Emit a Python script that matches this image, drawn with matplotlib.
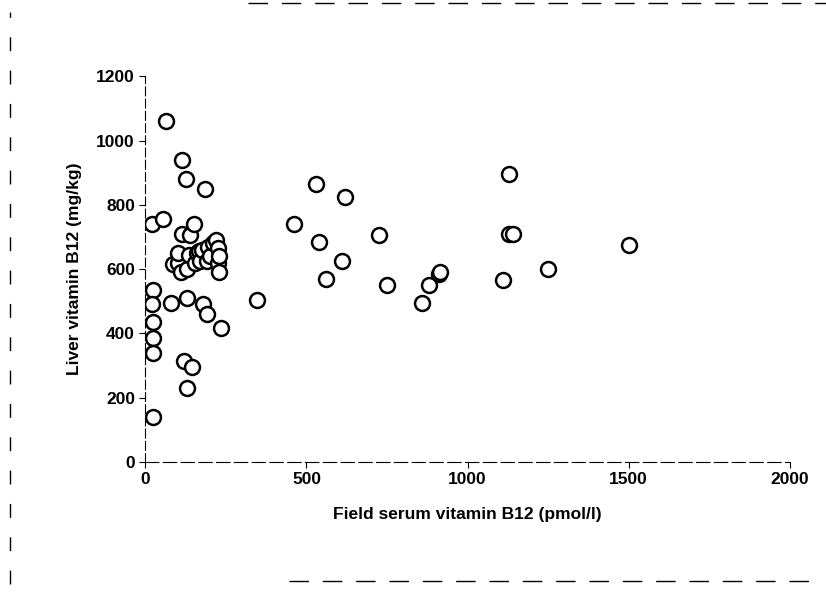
import numpy as np
import matplotlib.pyplot as plt

serum = [20, 25, 20, 25, 25, 25, 25,
         55, 65, 80, 85, 100, 100, 110, 115, 115, 120, 125, 130, 130, 130, 135, 140, 145,
         150, 155, 160, 165, 170, 175, 180, 185, 190, 190, 195, 200, 210, 220, 225, 225,
         230, 235, 230,
         345, 460, 530, 540, 560, 610, 620, 725, 750, 860, 880, 910, 915, 1110, 1130,
         1130, 1140, 1250, 1500]
liver = [740, 535, 490, 435, 385, 340, 140,
         755, 1060, 495, 615, 620, 650, 590, 710, 940, 315, 880, 230, 510, 600, 645, 705, 295,
         740, 620, 650, 655, 625, 660, 490, 850, 460, 625, 670, 640, 680, 690, 620, 665,
         590, 415, 640,
         505, 740, 865, 685, 570, 625, 825, 705, 550, 495, 550, 585, 590, 565, 895,
         710, 710, 600, 675]

plt.rcParams['font.family'] = ['Liberation Sans', 'DejaVu Sans']
fig = plt.figure(figsize=(8.26, 6.02), dpi=100)
ax = fig.add_axes([0.176, 0.233, 0.78, 0.64])
ax.scatter(serum, liver, s=115, facecolors='white', edgecolors='black', linewidths=1.8, zorder=3)
ax.set_xlim(0, 2000)
ax.set_ylim(0, 1200)
ax.set_xticks([0, 500, 1000, 1500, 2000])
ax.set_yticks(np.arange(0, 1201, 200))
for s in ['top', 'right']:
    ax.spines[s].set_visible(False)
ax.spines['left'].set_linestyle((0, (8, 3)))
ax.spines['bottom'].set_linestyle((0, (12, 4)))
ax.tick_params(labelsize=12.5, length=4, direction='out')
for lab in ax.get_xticklabels() + ax.get_yticklabels():
    lab.set_fontweight('bold')
ax.set_xlabel('Field serum vitamin B12 (pmol/l)', fontsize=12.5, fontweight='bold', labelpad=14)
ax.set_ylabel('Liver vitamin B12 (mg/kg)', fontsize=12.5, fontweight='bold', labelpad=10)

# scanned border remnants
fig.add_artist(plt.Line2D([0.012, 0.012], [0.03, 0.98], color='black', lw=1, ls=(0, (10, 14))))
fig.add_artist(plt.Line2D([0.3, 1.0], [0.995, 0.995], color='black', lw=1, ls=(0, (14, 10))))
fig.add_artist(plt.Line2D([0.35, 0.99], [0.035, 0.035], color='black', lw=1, ls=(0, (14, 10))))
fig.savefig('out.png', dpi=100, facecolor='white')
